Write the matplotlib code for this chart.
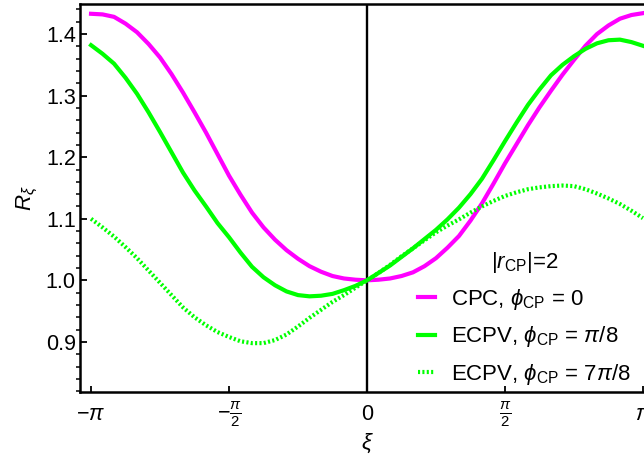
import numpy as np
import matplotlib
matplotlib.use('Agg')
from matplotlib import pyplot as plt

plt.rcParams['font.family'] = ['Liberation Sans', 'DejaVu Sans']
plt.rcParams['mathtext.fontset'] = 'custom'
plt.rcParams['mathtext.rm'] = 'Liberation Sans'
plt.rcParams['mathtext.it'] = 'Liberation Sans:italic'
plt.rcParams['mathtext.fallback'] = 'stixsans'

# xi in steps of pi/24, from -pi to pi
xi_steps = list(range(-24, 25))
cpc = [1.433, 1.432, 1.428, 1.417, 1.403, 1.384, 1.362, 1.335, 1.305, 1.273, 1.240, 1.205,
       1.170, 1.139, 1.110, 1.086, 1.066, 1.049, 1.035, 1.023, 1.014, 1.007, 1.003, 1.001,
       1.000,
       1.001, 1.003, 1.007, 1.013, 1.023, 1.036, 1.053, 1.072, 1.097, 1.125, 1.157, 1.190,
       1.221, 1.252, 1.281, 1.308, 1.334, 1.358, 1.381, 1.400, 1.414, 1.425, 1.431, 1.434]
ecpv_1 = [1.382, 1.368, 1.352, 1.329, 1.303, 1.273, 1.241, 1.208, 1.175, 1.146, 1.120, 1.093,
          1.070, 1.045, 1.022, 1.005, 0.992, 0.982, 0.976, 0.974, 0.975, 0.978, 0.984, 0.991,
          1.000,
          1.012, 1.024, 1.038, 1.052, 1.067, 1.082, 1.099, 1.118, 1.140, 1.165, 1.195, 1.226,
          1.256, 1.285, 1.310, 1.333, 1.350, 1.364, 1.376, 1.385, 1.390, 1.391, 1.387, 1.381]
ecpv_7 = [1.100, 1.086, 1.071, 1.054, 1.036, 1.016, 0.996, 0.976, 0.956, 0.940, 0.927, 0.916,
          0.908, 0.901, 0.898, 0.898, 0.903, 0.912, 0.925, 0.939, 0.952, 0.965, 0.976, 0.988,
          1.000,
          1.012, 1.025, 1.039, 1.052, 1.065, 1.078, 1.089, 1.099, 1.110, 1.120, 1.129, 1.137,
          1.143, 1.148, 1.151, 1.153, 1.154, 1.153, 1.148, 1.141, 1.133, 1.124, 1.113, 1.101]

xi = np.array(xi_steps) * np.pi / 24

fig = plt.figure(figsize=(6.44, 4.62), dpi=100)
ax = fig.add_axes([80 / 644, 1 - 392 / 462, 574 / 644, 388.5 / 462])

ax.plot(xi, cpc, color='#ff00ff', lw=3.0, label=r'CPC, $\phi_{\mathrm{CP}}$ = 0')
ax.plot(xi, ecpv_1, color='#00ff00', lw=3.0, label=r'ECPV, $\phi_{\mathrm{CP}}$ = $\pi$/8')
ax.plot(xi, ecpv_7, color='#00ff00', lw=3.0, linestyle=(0, (0.5, 0.55)),
        dash_capstyle='butt', label=r'ECPV, $\phi_{\mathrm{CP}}$ = 7$\pi$/8')
ax.axvline(0, color='black', lw=1.7, zorder=1)

pad = 2 * np.pi * 0.02
ax.set_xlim(-np.pi - pad, np.pi + pad)
ax.set_ylim(0.8186, 1.4497)

ax.set_xticks([-np.pi, -np.pi / 2, 0, np.pi / 2, np.pi])
ax.set_xticklabels([r'$-\pi$', r'$-\frac{\pi}{2}$', '0', r'$\frac{\pi}{2}$', r'$\pi$'])
ax.set_yticks([0.9, 1.0, 1.1, 1.2, 1.3, 1.4])
ax.set_yticklabels(['0.9', '1.0', '1.1', '1.2', '1.3', '1.4'])
ax.set_yticks(np.arange(0.82, 1.45, 0.02), minor=True)

ax.tick_params(axis='both', direction='in', labelsize=15.5, width=1.3, colors='black')
ax.tick_params(axis='y', which='major', length=5, pad=3)
ax.tick_params(axis='y', which='minor', length=3, width=1.1)
ax.tick_params(axis='x', which='major', length=4, pad=16)
for lab in ax.get_xticklabels():
    lab.set_va('center')

for s in ax.spines.values():
    s.set_linewidth(1.8)

ax.set_xlabel(r'$\xi$', fontsize=16, labelpad=2)
ax.set_ylabel(r'$R_{\xi}$', fontsize=16, labelpad=4)

leg = ax.legend(loc='upper left', bbox_to_anchor=(418 / 644, 1 - 250 / 462),
                bbox_transform=fig.transFigure, frameon=False, fontsize=16,
                title=r'$|r_{\mathrm{CP}}|$=2', title_fontsize=16,
                handlelength=0.75, handletextpad=0.75, labelspacing=0.55,
                borderpad=0, borderaxespad=0)

fig.savefig('out.png', dpi=100)
